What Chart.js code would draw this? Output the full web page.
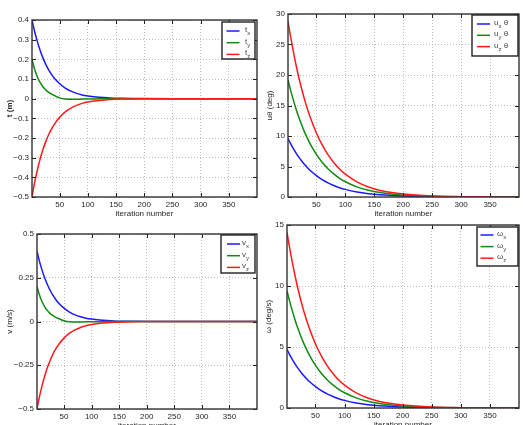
<!DOCTYPE html>
<html><head><meta charset="utf-8">
<script src="https://cdn.jsdelivr.net/npm/chart.js@4/dist/chart.umd.min.js"></script>
<style>
body{margin:0;background:#fff;width:523px;height:425px;overflow:hidden;position:relative;font-family:"Liberation Sans",Arial,sans-serif}
.c{position:absolute}
</style></head><body>
<div class="c" id="dA"><canvas id="cA"></canvas></div>
<div class="c" id="dB"><canvas id="cB"></canvas></div>
<div class="c" id="dC"><canvas id="cC"></canvas></div>
<div class="c" id="dD"><canvas id="cD"></canvas></div>
<script>
// ---- data ----
const iters = [1,5,10,15,20,25,30,35,40,50,60,70,80,90,100,120,140,160,180,200,250,300,350,400];
const xTicks = [50,100,150,200,250,300,350];
const xTitle = 'iteration number';

// translation t (m)
const tX = [0.4,0.349,0.295,0.249,0.21,0.177,0.149,0.126,0.106,0.076,0.054,0.038,0.027,0.019,0.014,0.007,0.0035,0.0018,0.0009,0.0005,0,0,0,0];
const tY = [0.2,0.156,0.114,0.084,0.062,0.045,0.033,0.024,0.017,0.004,-0.002,-0.003,-0.003,-0.002,-0.002,-0.001,0,0,0,0,0,0,0,0];
const tZ = [-0.5,-0.436,-0.369,-0.311,-0.262,-0.221,-0.186,-0.157,-0.133,-0.095,-0.067,-0.048,-0.034,-0.024,-0.017,-0.009,-0.0044,-0.0022,-0.0011,-0.0006,0,0,0,0];
const tTicks = [-0.5,-0.4,-0.3,-0.2,-0.1,0,0.1,0.2,0.3,0.4];
const tTickLabels = ['\u22120.5','\u22120.4','\u22120.3','\u22120.2','\u22120.1','0','0.1','0.2','0.3','0.4'];
const tLegend = ['t_x','t_y','t_z'];

// rotation u theta (deg)
const uX = [9.6,8.84,7.98,7.2,6.49,5.86,5.28,4.77,4.3,3.5,2.85,2.32,1.89,1.53,1.25,0.83,0.55,0.36,0.24,0.16,0.057,0.02,0.007,0.0026];
const uY = [19.2,17.68,15.96,14.4,12.98,11.72,10.56,9.54,8.6,7.0,5.7,4.64,3.78,3.06,2.5,1.66,1.1,0.72,0.48,0.32,0.114,0.04,0.014,0.005];
const uZ = [28.8,26.52,23.94,21.6,19.47,17.58,15.84,14.31,12.9,10.5,8.55,6.96,5.67,4.59,3.75,2.49,1.65,1.08,0.72,0.48,0.17,0.06,0.02,0.008];
const uTicks = [0,5,10,15,20,25,30];
const uTickLabels = ['0','5','10','15','20','25','30'];
const uLegend = ['u_x \u03b8','u_y \u03b8','u_z \u03b8'];

// velocity v (m/s)
const vX = [0.4,0.349,0.295,0.249,0.21,0.177,0.149,0.126,0.106,0.076,0.054,0.038,0.027,0.019,0.014,0.007,0.0035,0.0018,0.0009,0.0005,0,0,0,0];
const vY = [0.2,0.156,0.114,0.084,0.062,0.045,0.033,0.024,0.017,0.004,-0.002,-0.003,-0.003,-0.002,-0.002,-0.001,0,0,0,0,0,0,0,0];
const vZ = [-0.5,-0.436,-0.369,-0.311,-0.262,-0.221,-0.186,-0.157,-0.133,-0.095,-0.067,-0.048,-0.034,-0.024,-0.017,-0.009,-0.0044,-0.0022,-0.0011,-0.0006,0,0,0,0];
const vTicks = [-0.5,-0.25,0,0.25,0.5];
const vTickLabels = ['\u22120.5','\u22120.25','0','0.25','0.5'];
const vLegend = ['v_x','v_y','v_z'];

// angular velocity omega (deg/s)
const wX = [4.8,4.42,3.99,3.6,3.245,2.93,2.64,2.385,2.15,1.75,1.425,1.16,0.945,0.765,0.625,0.415,0.275,0.18,0.12,0.08,0.028,0.01,0.0035,0.0013];
const wY = [9.6,8.84,7.98,7.2,6.49,5.86,5.28,4.77,4.3,3.5,2.85,2.32,1.89,1.53,1.25,0.83,0.55,0.36,0.24,0.16,0.057,0.02,0.007,0.0026];
const wZ = [14.4,13.26,11.97,10.8,9.735,8.79,7.92,7.155,6.45,5.25,4.275,3.48,2.835,2.295,1.875,1.245,0.825,0.54,0.36,0.24,0.085,0.03,0.01,0.004];
const wTicks = [0,5,10,15];
const wTickLabels = ['0','5','10','15'];
const wLegend = ['\u03c9_x','\u03c9_y','\u03c9_z'];

// ---- styling / layout ----
const colors = ['#1a1aff','#108a10','#ff1a1a'];
const FONT = '"Liberation Sans", Arial, sans-serif';
const TXT = '#262626';

const framePlugin = {
  id:'frame',
  afterDatasetsDraw(chart){
    const {ctx, chartArea:a} = chart;
    const xs = chart.scales.x, ys = chart.scales.y;
    ctx.save();
    ctx.strokeStyle = '#222'; ctx.lineWidth = 1;
    ctx.beginPath();
    xs.ticks.forEach(t=>{
      const px = Math.round(xs.getPixelForValue(t.value))+0.5;
      ctx.moveTo(px,a.bottom); ctx.lineTo(px,a.bottom-4);
      ctx.moveTo(px,a.top); ctx.lineTo(px,a.top+4);
    });
    ys.ticks.forEach(t=>{
      const py = Math.round(ys.getPixelForValue(t.value))+0.5;
      ctx.moveTo(a.left,py); ctx.lineTo(a.left+4,py);
      ctx.moveTo(a.right,py); ctx.lineTo(a.right-4,py);
    });
    ctx.stroke();
    ctx.strokeStyle = '#333'; ctx.lineWidth = 1.4;
    ctx.strokeRect(a.left, a.top, a.right-a.left, a.bottom-a.top);
    ctx.restore();
  }
};

const legendPlugin = {
  id:'sublegend',
  afterDraw(chart, args, o){
    const {ctx, chartArea:a} = chart;
    const x0 = a.right - o.dx - o.w, y0 = a.top + o.dy;
    ctx.save();
    ctx.fillStyle = '#fff';
    ctx.fillRect(x0, y0, o.w, o.h);
    ctx.strokeStyle = '#222'; ctx.lineWidth = 1.4;
    ctx.strokeRect(x0, y0, o.w, o.h);
    chart.data.datasets.forEach((ds,i)=>{
      const y = y0 + o.first + i*o.step;
      ctx.strokeStyle = ds.borderColor; ctx.lineWidth = 1.5;
      ctx.beginPath(); ctx.moveTo(x0+o.lx, y); ctx.lineTo(x0+o.lx+13, y); ctx.stroke();
      const lab = ds.label;
      const k = lab.indexOf('_');
      const main = lab.slice(0,k), sub = lab.charAt(k+1), rest = lab.slice(k+2);
      let tx = x0 + o.tx;
      ctx.fillStyle = '#444'; ctx.textBaseline = 'alphabetic'; ctx.textAlign='left';
      ctx.font = '8px ' + FONT;
      ctx.fillText(main, tx, y+1); tx += ctx.measureText(main).width;
      ctx.font = '6px ' + FONT;
      ctx.fillText(sub, tx, y+4); tx += ctx.measureText(sub).width;
      ctx.font = '8px ' + FONT;
      ctx.fillText(rest, tx, y+1);
    });
    ctx.restore();
  }
};

function make(key, rect, axisW, yTitle, yBold, titlePad, yMin, yMax, yTicks, yTickLabels, series, labels, leg){
  const padTop = 8, padRight = 3, xH = 22;
  const left = rect.l - axisW, top = rect.t - padTop;
  const w = rect.r - left + padRight, h = rect.b - top + xH;
  const d = document.getElementById('d'+key);
  d.style.left = left+'px'; d.style.top = top+'px'; d.style.width = w+'px'; d.style.height = h+'px';
  const cv = document.getElementById('c'+key);
  cv.width = w; cv.height = h; cv.style.width = w+'px'; cv.style.height = h+'px';
  new Chart(cv, {
    type:'line',
    data:{datasets: series.map((s,i)=>({
      label: labels[i],
      data: iters.map((x,j)=>({x:x, y:s[j]})),
      borderColor: colors[i], borderWidth: 1.5, pointRadius: 0,
      cubicInterpolationMode:'monotone', fill:false, order: 2-i
    }))},
    options:{
      responsive:false, animation:false, devicePixelRatio:1,
      layout:{padding:{top:padTop, right:padRight, left:0, bottom:0}},
      plugins:{legend:{display:false}, tooltip:{enabled:false}, sublegend:leg},
      scales:{
        x:{type:'linear', min:1, max:400,
          afterBuildTicks: s=>{ s.ticks = xTicks.map(v=>({value:v})); },
          afterFit: s=>{ s.height = xH; s.paddingLeft = 0; s.paddingRight = 0; },
          grid:{color:'#bdbdbd', lineWidth:1, drawTicks:false},
          border:{display:false, dash:[1,2]},
          ticks:{padding:3, color:TXT, font:{family:FONT, size:8}, maxRotation:0, autoSkip:false,
                 callback:(v)=>String(v)},
          title:{display:true, text:xTitle, color:TXT, font:{family:FONT, size:8}, padding:{top:0,bottom:0}}
        },
        y:{type:'linear', min:yMin, max:yMax,
          afterBuildTicks: s=>{ s.ticks = yTicks.map(v=>({value:v})); },
          afterFit: s=>{ s.width = axisW; s.paddingTop = 0; s.paddingBottom = 0; },
          grid:{color:'#bdbdbd', lineWidth:1, drawTicks:false},
          border:{display:false, dash:[1,2]},
          ticks:{padding:3, color:TXT, font:{family:FONT, size:8}, autoSkip:false,
                 callback:(v,i)=>yTickLabels[i]},
          title:{display:true, text:yTitle, color:TXT, font:{family:FONT, size:8, weight: yBold?'bold':'normal'}, padding:{top:titlePad,bottom:0}}
        }
      }
    },
    plugins:[framePlugin, legendPlugin]
  });
}

make('A', {l:32,t:20,r:257,b:197}, 32, 't (m)', true, 5, -0.5, 0.4, tTicks, tTickLabels, [tX,tY,tZ], tLegend,
     {w:33, h:37, dx:2, dy:2, first:9, step:11.7, lx:4.5, tx:23});
make('B', {l:288,t:14,r:519,b:197}, 26, 'u\u03b8 (deg)', false, 3, 0, 30, uTicks, uTickLabels, [uX,uY,uZ], uLegend,
     {w:46, h:41, dx:1, dy:1, first:9, step:11.3, lx:5, tx:22});
make('C', {l:37,t:234,r:257,b:409}, 37, 'v (m/s)', false, 5, -0.5, 0.5, vTicks, vTickLabels, [vX,vY,vZ], vLegend,
     {w:34, h:38, dx:2, dy:1, first:9, step:11.7, lx:6, tx:21});
make('D', {l:287,t:225,r:519,b:408}, 25, '\u03c9 (deg/s)', false, 2, 0, 15, wTicks, wTickLabels, [wX,wY,wZ], wLegend,
     {w:41, h:39, dx:1, dy:2, first:8, step:11.6, lx:3.5, tx:20});
</script>
</body></html>
